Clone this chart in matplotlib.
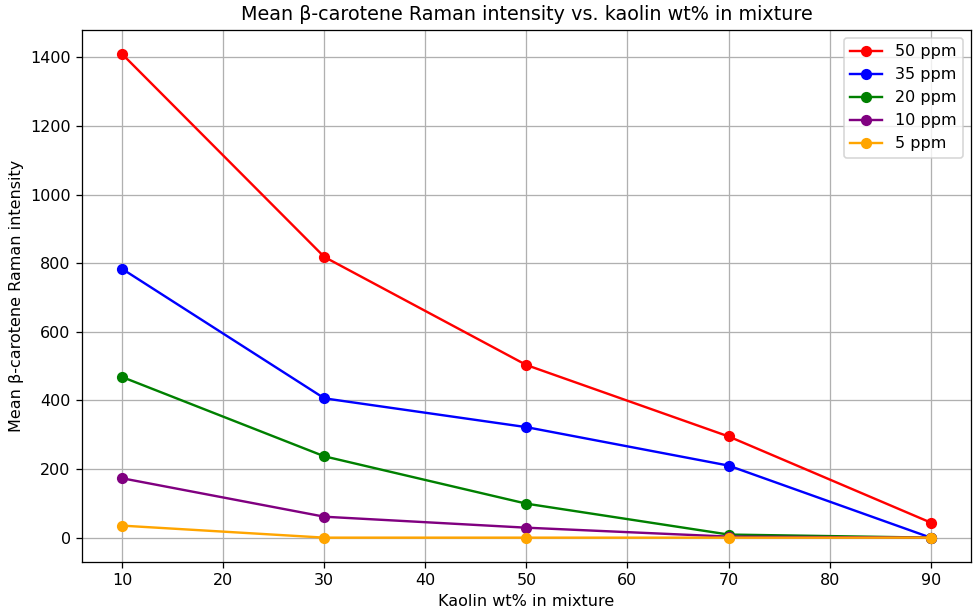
import matplotlib
matplotlib.use('Agg')
import matplotlib.pyplot as plt

# ── data ──
kaolin_wt = [10, 30, 50, 70, 90]
ppm_50 = [1409, 818, 503, 295, 44]
ppm_35 = [783, 406, 322, 210, 0]
ppm_20 = [468, 237, 99, 9, 0]
ppm_10 = [173, 61, 29, 3, 0]
ppm_5 = [35, 0, 0, 0, 0]

series = [
    ('50 ppm', ppm_50, 'red'),
    ('35 ppm', ppm_35, 'blue'),
    ('20 ppm', ppm_20, 'green'),
    ('10 ppm', ppm_10, 'purple'),
    ('5 ppm', ppm_5, 'orange'),
]

DPI = 115
fig, ax = plt.subplots(figsize=(974 / DPI, 612 / DPI), dpi=DPI)
for label, vals, color in series:
    ax.plot(kaolin_wt, vals, marker='o', color=color, label=label)

ax.set_xlabel('Kaolin wt% in mixture')
ax.set_ylabel('Mean β-carotene Raman intensity')
ax.set_title('Mean β-carotene Raman intensity vs. kaolin wt% in mixture')
ax.grid(True)
ax.legend(loc='upper right')
fig.subplots_adjust(left=0.084, right=0.997, top=0.951, bottom=0.082)
plt.savefig('out.png', dpi=DPI)
